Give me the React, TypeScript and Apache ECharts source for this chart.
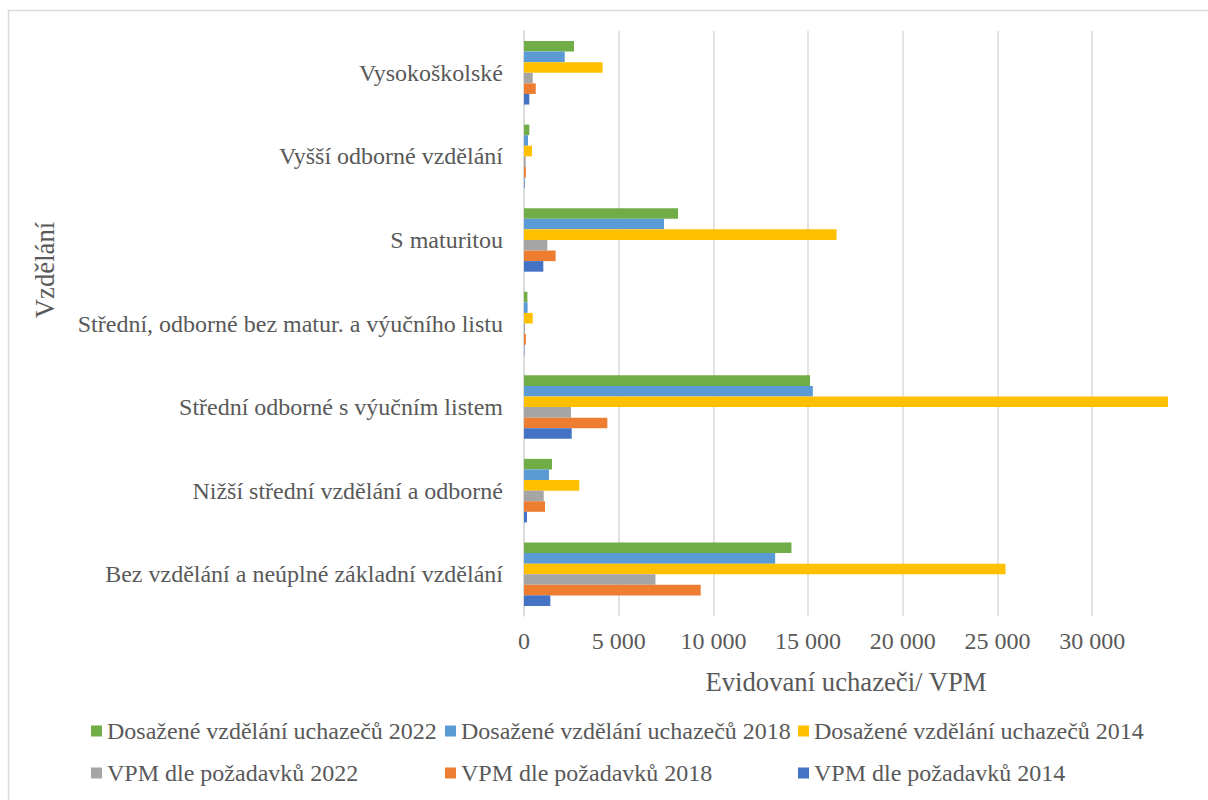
import React, { useEffect, useRef } from "react";
import * as echarts from "echarts";

const categories = [
  "Bez vzdělání a neúplné základní vzdělání",
  "Nižší střední vzdělání a odborné",
  "Střední odborné s výučním listem",
  "Střední, odborné bez matur. a výučního listu",
  "S maturitou",
  "Vyšší odborné vzdělání",
  "Vysokoškolské",
];

const seriesNames = [
  "Dosažené vzdělání uchazečů 2022",
  "Dosažené vzdělání uchazečů 2018",
  "Dosažené vzdělání uchazečů 2014",
  "VPM dle požadavků 2022",
  "VPM dle požadavků 2018",
  "VPM dle požadavků 2014",
];

const dos2022 = [14120, 1480, 15100, 180, 8130, 280, 2640];
const dos2018 = [13260, 1320, 15250, 190, 7390, 210, 2150];
const dos2014 = [25420, 2920, 34000, 460, 16500, 420, 4150];
const vpm2022 = [6940, 1040, 2480, 50, 1230, 90, 460];
const vpm2018 = [9330, 1110, 4400, 100, 1670, 100, 620];
const vpm2014 = [1390, 160, 2520, 20, 1020, 30, 280];

const seriesValues = [dos2022, dos2018, dos2014, vpm2022, vpm2018, vpm2014];
const colors = ["#70AD47", "#5B9BD5", "#FFC000", "#A5A5A5", "#ED7D31", "#4472C4"];

const xTicks = [0, 5000, 10000, 15000, 20000, 25000, 30000];
const xMax = 34000;

const FONT = "Liberation Serif";
const TEXT = "#595959";
const GRID = "#d9d9d9";

const legendLefts = [91, 445, 798];
const legendTops = [719, 761];

export default function App() {
  const ref = useRef<HTMLDivElement>(null);

  useEffect(() => {
    if (!ref.current) return;
    const chart = echarts.init(ref.current, undefined, { renderer: "svg" });

    const fmt = (v: number) => {
      if (!xTicks.includes(v)) return "";
      return String(v).replace(/\B(?=(\d{3})+(?!\d))/g, " ");
    };

    const splitColors = xTicks.map(() => GRID).concat(["rgba(0,0,0,0)"]);

    const legends = seriesNames.map((name, i) => ({
      show: true,
      data: [name],
      left: legendLefts[i % 3],
      top: legendTops[Math.floor(i / 3)],
      padding: 0,
      icon: "rect",
      itemWidth: 11,
      itemHeight: 11,
      selectedMode: false,
      textStyle: { fontFamily: FONT, fontSize: 24, color: TEXT },
    }));

    chart.setOption({
      animation: false,
      textStyle: { fontFamily: FONT },
      grid: {
        left: 524,
        right: 40,
        top: 31,
        bottom: 184,
        containLabel: false,
        outerBoundsMode: "none",
      },
      legend: legends,
      graphic: [
        {
          type: "rect",
          shape: { x: 8.5, y: 10.5, width: 1300, height: 900 },
          style: { fill: "none", stroke: GRID, lineWidth: 1.5 },
          silent: true,
        },
        {
          type: "text",
          x: 45,
          y: 270,
          rotation: Math.PI / 2,
          style: {
            text: "Vzdělání",
            fontFamily: FONT,
            fontSize: 26.7,
            fill: TEXT,
            align: "center",
            verticalAlign: "middle",
          },
        },
      ],
      xAxis: {
        type: "value",
        min: 0,
        max: xMax,
        interval: 5000,
        name: "Evidovaní uchazeči/ VPM",
        nameLocation: "middle",
        nameGap: 52,
        nameTextStyle: { fontFamily: FONT, fontSize: 26.7, color: TEXT },
        axisLine: { show: false },
        axisTick: { show: false },
        axisLabel: {
          formatter: fmt,
          fontFamily: FONT,
          fontSize: 24,
          color: TEXT,
          margin: 13,
          showMaxLabel: false,
        },
        splitLine: { show: true, lineStyle: { color: splitColors, width: 1.5 } },
      },
      yAxis: {
        type: "category",
        data: categories,
        axisLine: { show: true, lineStyle: { color: GRID, width: 1.5 } },
        axisTick: { show: false },
        axisLabel: {
          fontFamily: FONT,
          fontSize: 24,
          color: TEXT,
          margin: 21,
        },
        splitLine: { show: false },
      },
      series: seriesNames.map((name, i) => ({
        name,
        type: "bar",
        data: seriesValues[i],
        itemStyle: { color: colors[i] },
        barGap: "0%",
        barCategoryGap: "24%",
      })),
    });

    return () => chart.dispose();
  }, []);

  return (
    <div
      ref={ref}
      style={{ position: "absolute", left: 0, top: 0, width: 1208, height: 800 }}
    />
  );
}
